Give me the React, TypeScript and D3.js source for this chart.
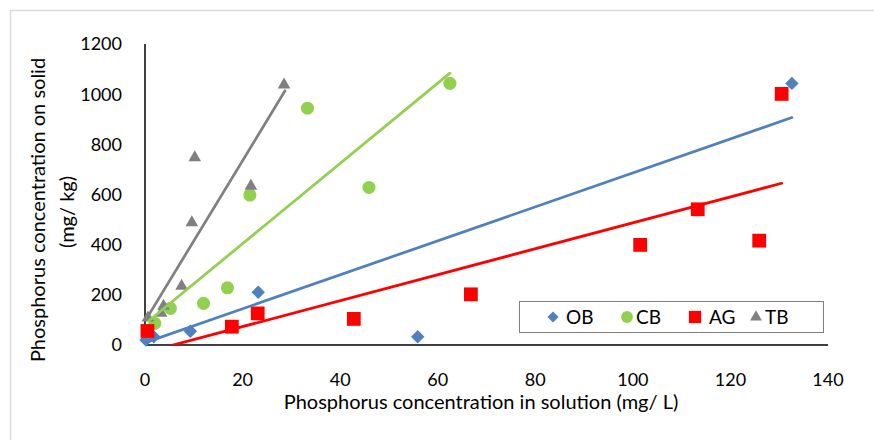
import React from "react";
import * as d3 from "d3";

const obX = [0.2, 1.8, 9.3, 23.2, 55.9, 132.6];
const obY = [20, 33, 55, 210, 33, 1043];
const cbX = [2.0, 5.2, 12.0, 16.9, 21.5, 33.3, 45.9, 62.5];
const cbY = [86, 146, 166, 228, 598, 944, 628, 1043];
const agX = [0.5, 17.8, 23.1, 42.8, 66.8, 101.5, 113.3, 125.9, 130.5];
const agY = [56, 73, 126, 104, 202, 399, 541, 416, 1001];
const tbX = [0.6, 3.3, 3.8, 7.5, 9.6, 10.2, 21.7, 28.5];
const tbY = [108, 127, 155, 235, 488, 747, 634, 1037];

const seriesNames = ["OB", "CB", "AG", "TB"];
const seriesColors = ["#4F81BD", "#92D050", "#FF0000", "#808080"];
const seriesShapes = ["diamond", "circle", "square", "triangle"];
// trendline [slope, intercept, xStart, xEnd]
const trendOB = [6.77, 9, 0.2, 132.6];
const trendCB = [16.0, 84, 0.8, 62.5];
const trendAG = [5.17, -30, 0.5, 130.5];
const trendTB = [32.0, 95, 0.6, 28.7];

const xTicks = [0, 20, 40, 60, 80, 100, 120, 140];
const yTicks = [0, 200, 400, 600, 800, 1000, 1200];
const xTitle = "Phosphorus concentration in solution (mg/ L)";
const yTitle1 = "Phosphorus concentration on solid";
const yTitle2 = "(mg/ kg)";

const W = 874, H = 440;
const FONT = "Lato, 'Open Sans', sans-serif";

function symbolPath(shape: string, size: number) {
  const t =
    shape === "diamond" ? d3.symbolDiamond2 :
    shape === "circle" ? d3.symbolCircle :
    shape === "square" ? d3.symbolSquare : d3.symbolTriangle2;
  return d3.symbol(t, size)()!;
}

export default function App() {
  const x = d3.scaleLinear().domain([0, 140]).range([145, 828]);
  const y = d3.scaleLinear().domain([0, 1200]).range([345, 44]);
  const series = [
    { xs: obX, ys: obY, tr: trendOB },
    { xs: cbX, ys: cbY, tr: trendCB },
    { xs: agX, ys: agY, tr: trendAG },
    { xs: tbX, ys: tbY, tr: trendTB },
  ];
  const markerSize = [115, 135, 190, 115];
  const legendSize = [80, 110, 150, 100];
  const legendMarkerX = [553, 627, 695, 756];
  const legendTextX = [566, 636, 709, 765];

  return (
    <svg width={W} height={H} style={{ position: "absolute", left: 0, top: 0, background: "#fff" }} fontFamily={FONT}>
      <rect x={0} y={0} width={W} height={H} fill="#fff" />
      <path d={`M10.5,${H}V10.5H${W}`} fill="none" stroke="#d9d9d9" strokeWidth={1.5} />
      <defs>
        <clipPath id="plotclip">
          <rect x={145} y={40} width={700} height={305} />
        </clipPath>
      </defs>
      {/* axes */}
      <line x1={x(0)} x2={x(0)} y1={y(1200)} y2={y(0)} stroke="#000" strokeWidth={1.5} />
      <line x1={x(0)} x2={x(140)} y1={y(0)} y2={y(0)} stroke="#000" strokeWidth={1.5} />
      {yTicks.map((t) => (
        <text key={"y" + t} x={122} y={y(t)} dy="0.36em" textAnchor="end" fontSize={18} fill="#000">{t}</text>
      ))}
      {xTicks.map((t) => (
        <text key={"x" + t} x={x(t)} y={386} textAnchor="middle" fontSize={18} fill="#000">{t}</text>
      ))}
      <text x={481} y={409} textAnchor="middle" fontSize={20} fill="#000">{xTitle}</text>
      <text transform="translate(45,210) rotate(-90)" textAnchor="middle" fontSize={20} fill="#000">{yTitle1}</text>
      <text transform="translate(74,212) rotate(-90)" textAnchor="middle" fontSize={20} fill="#000">{yTitle2}</text>
      {/* markers */}
      {series.map((s, si) =>
        s.xs.map((xv, i) => (
          <path key={si + "-" + i} d={symbolPath(seriesShapes[si], markerSize[si])}
            transform={`translate(${x(xv)},${y(s.ys[i])})`} fill={seriesColors[si]} />
        ))
      )}
      {/* trendlines */}
      <g clipPath="url(#plotclip)">
        {series.map((s, si) => {
          const [m, b, x0, x1] = s.tr;
          const pts: [number, number][] = [[x0, m * x0 + b], [x1, m * x1 + b]];
          const l = d3.line<[number, number]>().x((p) => x(p[0])).y((p) => y(p[1]));
          return <path key={"t" + si} d={l(pts)!} fill="none" stroke={seriesColors[si]} strokeWidth={2.75} strokeLinecap="round" />;
        })}
      </g>
      {/* legend */}
      <rect x={519.5} y={301.5} width={304} height={31} fill="#fff" stroke="#7f7f7f" strokeWidth={1} />
      {seriesNames.map((n, i) => (
        <g key={n}>
          <path d={symbolPath(seriesShapes[i], legendSize[i])} transform={`translate(${legendMarkerX[i]},317)`} fill={seriesColors[i]} />
          <text x={legendTextX[i]} y={323.5} fontSize={19} fill="#000">{n}</text>
        </g>
      ))}
    </svg>
  );
}
